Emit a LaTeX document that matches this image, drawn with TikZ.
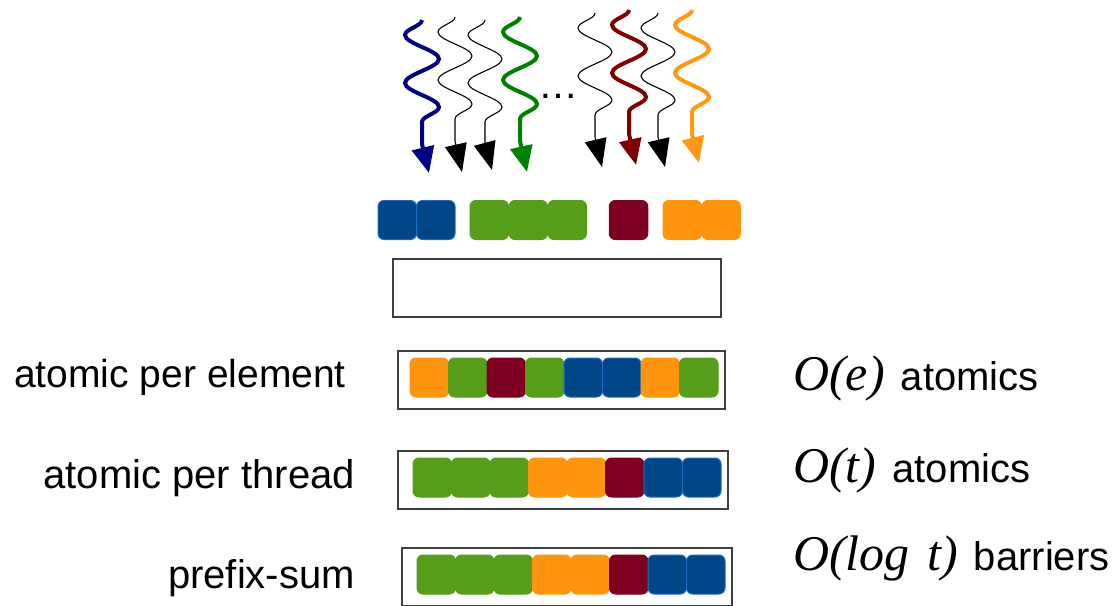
\documentclass[tikz,border=0pt]{standalone}
\usepackage{fontspec}
\setmainfont{Liberation Sans}
\newfontfamily\serifit{Liberation Serif}
\usetikzlibrary{positioning,arrows.meta,decorations.pathmorphing}

\definecolor{cellblue}{HTML}{004586}
\definecolor{cellblueedge}{HTML}{1C6BC4}
\definecolor{cellgreen}{HTML}{579D1C}
\definecolor{cellred}{HTML}{7E0021}
\definecolor{cellorange}{HTML}{FF950E}
\definecolor{thrblue}{HTML}{000080}
\definecolor{thrgreen}{HTML}{008000}
\definecolor{thrred}{HTML}{800000}
\definecolor{throrange}{HTML}{FF9914}

\newcommand{\cplx}{\serifit\itshape\fontsize{50}{60}\selectfont}

\begin{document}
\begin{tikzpicture}
    [x=1pt, y=-1pt,
    every node/.style={font=\fontsize{40}{48}\selectfont, inner sep=0pt},
    cell/.style={rectangle, rounded corners=6pt, minimum width=38.5pt,
    minimum height=39pt, line width=1pt},
    sq b/.style={cell, fill=cellblue, draw=cellblueedge},
    sq g/.style={cell, fill=cellgreen, draw=cellgreen},
    sq r/.style={cell, fill=cellred, draw=cellred},
    sq o/.style={cell, fill=cellorange, draw=cellorange},
    frame/.style={draw=black!75, line width=1.3pt, minimum height=58pt},
    thread/.style={decoration={snake, mirror, amplitude=17pt,
    segment length=48pt}},
    thin thread/.style={thread, line width=1.1pt,
    -{Triangle[length=28pt 0 0, width=22pt 0 0]}},
    thick thread/.style={thread, line width=4pt,
    -{Triangle[length=26pt 0 0, width=22pt 0 0]}}]
    \useasboundingbox (0,0) rectangle (1116,605);

    % threads
    \foreach \n/\x/\ys/\ye in {1/422/20/173, 2/455/17/172, 3/485/20/170,
        4/520/17/172, 5/595/13/167, 6/629/10/165, 7/658/13/167, 8/692/10/163} {
        \coordinate (t\n) at (\x,\ys);
        \coordinate (m\n) at (\x,\ys+124);
        \coordinate (h\n) at (\x+7,\ye);
    }
    \draw[thick thread, thrblue] (t1) decorate {-- (m1)} -- (h1);
    \draw[thin thread] (t2) decorate {-- (m2)} -- (h2);
    \draw[thin thread] (t3) decorate {-- (m3)} -- (h3);
    \draw[thick thread, thrgreen] (t4) decorate {-- (m4)} -- (h4);
    \node[anchor=base west] (dots) at (538,98) {…};
    \draw[thin thread] (t5) decorate {-- (m5)} -- (h5);
    \draw[thick thread, thrred] (t6) decorate {-- (m6)} -- (h6);
    \draw[thin thread] (t7) decorate {-- (m7)} -- (h7);
    \draw[thick thread, throrange] (t8) decorate {-- (m8)} -- (h8);

    % input elements
    \foreach \c/\x [count=\i] in {b/397.25, b/435.75, g/489.25, g/528.25,
        g/567.25, r/628.5, o/682.25, o/721.25}
        \node[sq \c] (in\i) at (\x,220) {};

    \node[frame, minimum width=328pt] (buf) at (557,288) {};

    % the three strategies
    \node[frame, minimum width=327pt] (rowpe) at (561.5,380) {};
    \foreach \c [count=\i] in {o,g,r,g,b,b,o,g}
        \node[sq \c] (pe\i) at (410+38.5*\i-19.25,377.5) {};

    \node[frame, minimum width=330pt] (rowpt) at (563,480) {};
    \foreach \c [count=\i] in {g,g,g,o,o,r,b,b}
        \node[sq \c] (pt\i) at (413+38.5*\i-19.25,477.5) {};

    \node[frame, minimum width=330pt] (rowps) at (567,577) {};
    \foreach \c [count=\i] in {g,g,g,o,o,r,b,b}
        \node[sq \c] (ps\i) at (417+38.5*\i-19.25,574.5) {};

    \node[anchor=base east, font=\fontsize{39}{47}\selectfont] (lpe)
        at (346,387) {atomic per element};
    \node[anchor=base east] (lpt) at (355,488) {atomic per thread};
    \node[anchor=base east] (lps) at (355,588) {prefix-sum};

    \node[anchor=base west] (cpe) at (793,390)
        {{\cplx O(e)}\hspace{16pt}atomics};
    \node[anchor=base west] (cpt) at (793,482)
        {{\cplx O(t)}\hspace{16pt}atomics};
    \node[anchor=base west] (cps) at (793,570)
        {{\cplx O(log\hspace{5pt} t)}\hspace{16pt}barriers};
\end{tikzpicture}
\end{document}
